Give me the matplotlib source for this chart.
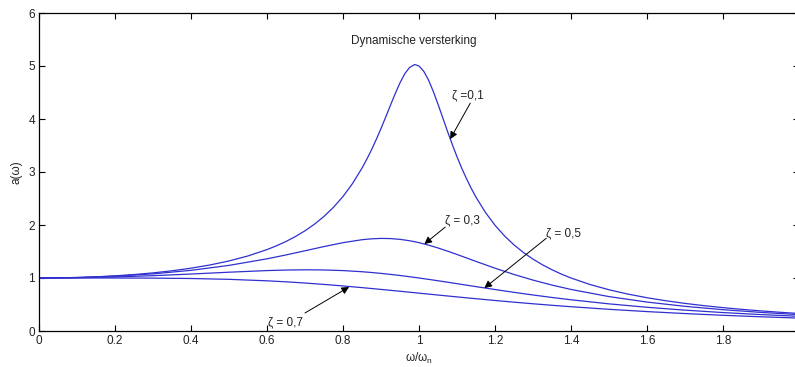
import matplotlib
matplotlib.use('Agg')
import matplotlib.pyplot as plt

plt.rcParams['font.family'] = ['Liberation Sans', 'DejaVu Sans']

# frequentieverhouding omega/omega_n (fijner rond de resonantiepiek voor zeta = 0,1)
r_01 = [0.0, 0.05, 0.1, 0.15, 0.2, 0.25, 0.3, 0.35, 0.4, 0.45, 0.5, 0.55, 0.6, 0.625, 0.65, 0.675,
        0.7, 0.725, 0.75, 0.775, 0.8, 0.825, 0.85, 0.8625, 0.875, 0.8875, 0.9, 0.9125, 0.925, 0.9375,
        0.95, 0.9625, 0.975, 0.9875, 0.99, 1.0, 1.0125, 1.025, 1.0375, 1.05, 1.0625, 1.075, 1.0875,
        1.1, 1.1125, 1.125, 1.1375, 1.15, 1.175, 1.2, 1.225, 1.25, 1.275, 1.3, 1.325, 1.35, 1.375,
        1.4, 1.45, 1.5, 1.55, 1.6, 1.65, 1.7, 1.75, 1.8, 1.85, 1.9, 1.95, 2.0]
a_01 = [1.0, 1.0025, 1.0099, 1.0225, 1.0408, 1.0652, 1.0965, 1.1360, 1.1851, 1.2460, 1.3216, 1.4162,
        1.5357, 1.6076, 1.6893, 1.7830, 1.8908, 2.0160, 2.1622, 2.3343, 2.5384, 2.7818, 3.0728, 3.2386,
        3.4188, 3.6133, 3.8208, 4.0386, 4.2614, 4.4802, 4.6826, 4.8523, 4.9714, 5.0237, 5.0252, 5.0,
        4.9006, 4.7358, 4.5224, 4.2794, 4.0235, 3.7677, 3.5209, 3.2880, 3.0716, 2.8727, 2.6906, 2.5245,
        2.2355, 1.9952, 1.7942, 1.6246, 1.4802, 1.3562, 1.2488, 1.1552, 1.0728, 1.0, 0.8772, 0.7779,
        0.6962, 0.6279, 0.5702, 0.5207, 0.4780, 0.4408, 0.4081, 0.3791, 0.3534, 0.3304]

# frequentieverhouding voor de sterker gedempte krommen
r = [0.0, 0.1, 0.2, 0.3, 0.4, 0.5, 0.6, 0.65, 0.7, 0.75, 0.8, 0.85,
     0.875, 0.9, 0.925, 0.95, 0.975, 0.99, 1.0, 1.025, 1.05, 1.075, 1.1, 1.125,
     1.15, 1.2, 1.25, 1.3, 1.35, 1.4, 1.5, 1.6, 1.7, 1.8, 1.9, 2.0]
a_03 = [1.0, 1.0083, 1.0336, 1.0780, 1.1447, 1.2380, 1.3618, 1.4350, 1.5136, 1.5933, 1.6667, 1.7223,
        1.7393, 1.7469, 1.7438, 1.7293, 1.7033, 1.6826, 1.6667, 1.6205, 1.5667, 1.5071, 1.4438, 1.3786,
        1.3129, 1.1851, 1.0667, 0.9603, 0.8663, 0.7839, 0.6492, 0.5459, 0.4656, 0.4021, 0.3511, 0.3095]
a_05 = [1.0, 1.0050, 1.0198, 1.0437, 1.0748, 1.1094, 1.1399, 1.1501, 1.1546, 1.1517, 1.1399, 1.1184,
        1.1039, 1.0871, 1.0681, 1.0471, 1.0243, 1.0099, 1.0, 0.9744, 0.9479, 0.9206, 0.8930, 0.8651,
        0.8373, 0.7824, 0.7295, 0.6795, 0.6326, 0.5891, 0.5121, 0.4475, 0.3934, 0.3480, 0.3098, 0.2774]
a_07 = [1.0, 1.0002, 1.0000, 0.9978, 0.9905, 0.9747, 0.9469, 0.9278, 0.9052, 0.8791, 0.8500, 0.8184,
        0.8018, 0.7848, 0.7674, 0.7499, 0.7321, 0.7214, 0.7143, 0.6964, 0.6786, 0.6609, 0.6434, 0.6261,
        0.6090, 0.5758, 0.5440, 0.5138, 0.4851, 0.4582, 0.4092, 0.3663, 0.3290, 0.2966, 0.2683, 0.2437]

labels = ['ζ =0,1', 'ζ = 0,3', 'ζ = 0,5', 'ζ = 0,7']
# (tekstpositie, pijlpunt, pijlstaart) in data-coordinaten
label_pos = [(1.087, 4.45), (1.069, 2.08), (1.335, 1.85), (0.603, 0.17)]
arrow_tip = [(1.082, 3.62), (1.014, 1.64), (1.172, 0.81), (0.816, 0.83)]
arrow_tail = [(1.135, 4.30), (1.069, 1.96), (1.335, 1.75), (0.700, 0.34)]

fig = plt.figure(figsize=(7.95, 3.67), dpi=100)
ax = fig.add_axes([39 / 795, 36 / 367, 760 / 795, 318 / 367])

ax.plot(r_01, a_01, color='#3030d0', lw=0.9)
for a in (a_03, a_05, a_07):
    ax.plot(r, a, color='#3030d0', lw=0.9)

for txt, pos, tip, tail in zip(labels, label_pos, arrow_tip, arrow_tail):
    ax.text(pos[0], pos[1], txt, fontsize=8.5, ha='left', va='center', color='#222222')
    ax.annotate('', xy=tip, xytext=tail,
                arrowprops=dict(arrowstyle='-|>', color='k', lw=0.7, mutation_scale=11,
                                shrinkA=0, shrinkB=0))

ax.text(0.987, 5.47, 'Dynamische versterking', fontsize=8.5, ha='center', va='center',
        color='#222222')

ax.set_xlim(0, 2)
ax.set_ylim(0, 6)
xt = [0, 0.2, 0.4, 0.6, 0.8, 1.0, 1.2, 1.4, 1.6, 1.8]
ax.set_xticks(xt)
ax.set_xticklabels(['0', '0.2', '0.4', '0.6', '0.8', '1', '1.2', '1.4', '1.6', '1.8'])
ax.set_yticks(range(7))
ax.tick_params(direction='in', length=4, width=0.8, top=True, right=True,
               labelsize=8.5, labelcolor='#222222', pad=3)
for s in ax.spines.values():
    s.set_linewidth(0.9)

ax.set_xlabel(r'ω/ω$_\mathregular{n}$', fontsize=8.5, labelpad=3, color='#222222')
ax.set_ylabel('a(ω)', fontsize=8.5, labelpad=4, color='#222222')

fig.savefig('out.png', dpi=100)
